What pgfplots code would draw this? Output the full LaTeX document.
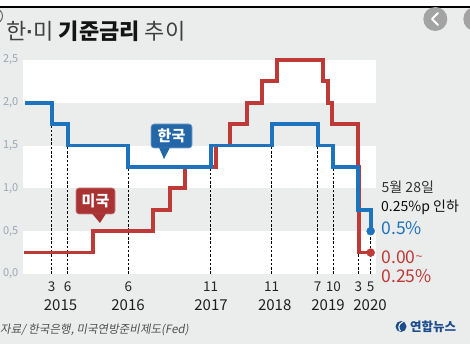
\documentclass[border=0pt]{standalone}
\usepackage{pgfplots}
\pgfplotsset{compat=1.18}
\usepackage{fontspec}
\setmainfont{Noto Sans CJK KR}
\newfontfamily\krslant[FakeSlant=0.18]{Noto Sans CJK KR}
\newfontfamily\latinfont{Liberation Sans}
\definecolor{bg}{HTML}{EBECEC}
\definecolor{krblue}{HTML}{1E73BE}
\definecolor{usred}{HTML}{BE3A36}
\definecolor{ylab}{HTML}{9CA6B4}
\definecolor{cblue}{HTML}{2467A8}
\definecolor{cred}{HTML}{A93232}
\definecolor{srcgray}{HTML}{505050}
\definecolor{logoblue}{HTML}{1D4C8F}
\definecolor{btn}{HTML}{A3A3A3}
\begin{document}
\begin{tikzpicture}
\useasboundingbox (0,0) rectangle (470pt,344pt);
\clip (0,0) rectangle (470pt,344pt);
\begin{scope}[shift={(0,344pt)},x=1pt,y=-1pt]
\fill[bg] (0,0) rectangle (470,344);
\fill[white] (0,0) rectangle (470,6.5);
\draw[black, line width=1.5pt] (0,7) -- (470,7);
\fill[white] (23,60) rectangle (376,102.8);
\fill[white] (23,145.6) rectangle (376,188.4);
\fill[white] (23,231.2) rectangle (376,274);
\end{scope}
\begin{axis}[
  at={(23pt,70pt)}, anchor=south west, scale only axis,
  width=353pt, height=214pt,
  xmin=2014.720, xmax=2020.498, ymin=0, ymax=2.5,
  clip=false,
  axis line style={draw=none},
  tick style={draw=none}, major tick length=0pt,
  xtick={2015.190,2015.452,2016.444,2017.792,2018.790,2019.543,2019.799,2020.208,2020.411},
  xticklabels={3,6,6,11,11,7,10,3,5},
  xticklabel style={font=\fontsize{13.5}{14}\selectfont, text=black!85, anchor=base, inner sep=0pt, yshift=-18pt},
  ytick={0,0.5,1,1.5,2,2.5},
  yticklabels={{0,0},{0,5},{1,0},{1,5},{2,0},{2,5}},
  yticklabel style={font=\fontsize{11}{12}\selectfont, text=ylab, anchor=east, inner sep=0pt, xshift=-4.5pt},
]
% dashed guide lines at Korean rate changes
\addplot[black, line width=0.7pt, dash pattern=on 2.5pt off 1.8pt] coordinates {(2015.190,0) (2015.190,1.75)};
\addplot[black, line width=0.7pt, dash pattern=on 2.5pt off 1.8pt] coordinates {(2015.452,0) (2015.452,1.5)};
\addplot[black, line width=0.7pt, dash pattern=on 2.5pt off 1.8pt] coordinates {(2016.444,0) (2016.444,1.25)};
\addplot[black, line width=0.7pt, dash pattern=on 2.5pt off 1.8pt] coordinates {(2017.792,0) (2017.792,1.25)};
\addplot[black, line width=0.7pt, dash pattern=on 2.5pt off 1.8pt] coordinates {(2018.790,0) (2018.790,1.5)};
\addplot[black, line width=0.7pt, dash pattern=on 2.5pt off 1.8pt] coordinates {(2019.543,0) (2019.543,1.5)};
\addplot[black, line width=0.7pt, dash pattern=on 2.5pt off 1.8pt] coordinates {(2019.799,0) (2019.799,1.25)};
\addplot[black, line width=0.7pt, dash pattern=on 2.5pt off 1.8pt] coordinates {(2020.208,0) (2020.208,0.75)};
\addplot[black, line width=0.7pt, dash pattern=on 2.5pt off 1.8pt] coordinates {(2020.411,0) (2020.411,0.5)};
% US
\addplot[const plot, usred, line width=3.8pt, line join=miter] coordinates {
 (2014.737,0.25) (2015.866,0.5) (2016.848,0.75) (2017.126,1.0) (2017.372,1.25)
 (2017.879,1.5) (2018.108,1.75) (2018.386,2.0) (2018.632,2.25) (2018.877,2.5)
 (2019.630,2.25) (2019.712,2.0) (2019.778,1.75) (2020.203,1.25) (2020.219,0.25) (2020.411,0.25)};
% Korea
\addplot[const plot, krblue, line width=3.8pt, line join=miter] coordinates {
 (2014.753,2.0) (2015.190,1.75) (2015.452,1.5) (2016.444,1.25) (2017.792,1.5)
 (2018.790,1.75) (2019.543,1.5) (2019.799,1.25) (2020.208,0.75) (2020.411,0.5)};
\addplot[only marks, mark=*, mark size=4pt, krblue] coordinates {(2020.411,0.5)};
\addplot[only marks, mark=*, mark size=4pt, usred] coordinates {(2020.411,0.25)};
\end{axis}
\begin{scope}[shift={(0,344pt)},x=1pt,y=-1pt]
% left partial icon
\draw[black!60, line width=1pt] (-5,16) circle (7.5);
% title
\node[anchor=west, inner sep=0pt] at (6,31) {\fontsize{22}{24}\selectfont\color{black!75}한{\latinfont\bfseries ·}미 \textbf{\color{black!92}기준금리} 추이};
% buttons
\fill[btn] (435.3,19) circle (12);
\draw[white, line width=2pt, line cap=round, line join=round] (438,13) -- (432,19) -- (438,25);
\fill[btn] (475.3,19) circle (12);
% years
\foreach \xx/\yy in {60.5/2015,128/2016,211/2017,274.7/2018,328/2019,370/2020}{
  \node[anchor=base, inner sep=0pt, text=black!88] at (\xx,311) {\fontsize{15}{16}\selectfont \yy};
}
% callouts
\draw[fill=cblue, draw=cblue!60!white, line width=0.6pt, rounded corners=3pt] (151,124) rectangle (192,148);
\fill[cblue] (159,147.5) -- (170,147.5) -- (164,159) -- cycle;
\node[text=white, inner sep=0pt] at (171.5,136) {\bfseries\fontsize{15}{15}\selectfont 한국};
\draw[fill=cred, draw=cred!60!white, line width=0.6pt, rounded corners=3pt] (76,188) rectangle (115,214);
\fill[cred] (92,213.5) -- (106,213.5) -- (100,223) -- cycle;
\node[text=white, inner sep=0pt] at (95.5,201) {\bfseries\fontsize{15}{15}\selectfont 미국};
% right annotations
\node[anchor=west, inner sep=0pt, text=black!80] at (381.5,187) {\fontsize{14}{14}\selectfont 5월 28일};
\node[anchor=west, inner sep=0pt, text=black!95] at (381,207) {\fontsize{14}{14}\selectfont 0.25\%p 인하};
\node[anchor=west, inner sep=0pt, text=krblue] at (381.5,228) {\fontsize{17.5}{18}\selectfont 0.5\%};
\node[anchor=west, inner sep=0pt, text=usred] at (381.5,257) {\fontsize{17.5}{18}\selectfont 0.00\raisebox{3pt}{\latinfont\fontsize{12}{12}\selectfont\textasciitilde}};
\node[anchor=west, inner sep=0pt, text=usred] at (381.5,276) {\fontsize{17.5}{18}\selectfont 0.25\%};
% source
\node[anchor=west, inner sep=0pt] at (0,330) {\krslant\fontsize{11.5}{12}\selectfont\color{srcgray} 자료/ 한국은행, 미국연방준비제도(Fed)};
% logo
\fill[logoblue] (401,326.5) circle (5.5);
\draw[white, line width=1.1pt] (402.5,322) .. controls (398,324) and (398,329) .. (400.5,331);
\node[anchor=west, inner sep=0pt] at (410,327) {\bfseries\fontsize{12.5}{13}\selectfont\color{logoblue} 연합뉴스};
\end{scope}
\end{tikzpicture}
\end{document}
